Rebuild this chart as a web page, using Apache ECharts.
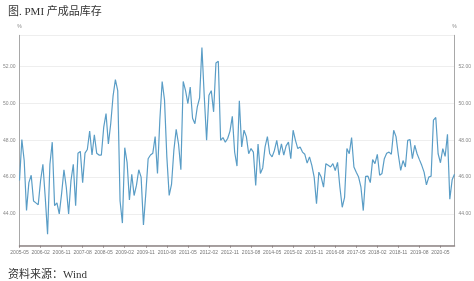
<!DOCTYPE html>
<html><head><meta charset="utf-8">
<script src="https://cdn.jsdelivr.net/npm/echarts@6/dist/echarts.min.js"></script>
<style>html,body{margin:0;padding:0;background:#fff;}#c{width:474px;height:281px;}</style>
</head><body><div id="c"></div>
<script>
const titleText = '图. PMI 产成品库存';
const sourceText = '资料来源：Wind';
const startYear = 2005, startMonth = 5, monthCount = 187;
const inventory1 = [45.82,48.04,46.9,44.18,45.7,46.1,44.7,44.6,44.5,45.8,46.7,44.9,42.9,46.7,47.9,44.45,44.6,44.0,45.1,46.4,
45.45,44.0,45.8,46.7,44.45,47.3,47.4,45.7,47.3,47.5,48.5,47.2,48.3,47.3,47.2,47.2,48.7,49.45,47.8,48.9,
50.4,51.3,50.7,44.7,43.5,47.6,46.8,44.76,46.15,45.0,45.55,46.4,46.0,43.4,45.1,47.0,47.2,47.3,48.2,46.2,
49.1,51.2,50.2,47.1,45.0,45.6,47.45,48.6,47.8,46.4,51.2,50.7,50.0,50.9,49.2,48.9,49.8,50.3,53.05,50.4,
48.0,50.45,50.7,49.55,52.2,52.3,48.0,48.15,47.9,48.1,48.5,49.3,47.35,46.6,50.15];
const inventory2 = [47.64,48.55,48.2,47.27,47.55,47.36,45.55,47.8,46.2,46.5,47.64,48.2,47.27,47.1,47.45,48.0,47.2,47.8,47.2,47.7,
47.9,47.0,48.55,48.0,47.55,47.64,47.36,47.24,46.76,47.1,46.64,46.0,44.55,46.27,46.0,45.45,46.73,46.64,46.55,46.73,
46.36,46.8,45.45,44.36,44.9,47.55,47.27,48.15,46.55,46.27,46.0,45.45,44.18,46.04,46.05,45.7,46.95,46.73,47.24,46.1,
46.2,47.0,47.3,47.36,47.24,48.55,48.2,47.2,46.36,46.9,46.55,48.0,48.04,47.0,47.73,47.27,46.95,46.64,46.27,45.58,
46.0,46.05,49.1,49.24,47.27,46.78,47.55,47.13,48.33,44.8,45.85,46.15];
const values = inventory1.concat(inventory2);
const months = [];
for (let i = 0; i < monthCount; i++) {
  const m = startMonth - 1 + i;
  const y = startYear + Math.floor(m / 12);
  const mm = (m % 12) + 1;
  months.push(y + '-' + (mm < 10 ? '0' + mm : mm));
}
const yMin = 42.27, yMax = 53.71;

const chart = echarts.init(document.getElementById('c'), null, {renderer: 'canvas'});
const yAxisBase = {
  type: 'value', min: yMin, max: yMax, splitNumber: 6,
  name: '%', nameGap: 6,
  nameTextStyle: {fontSize: 5, color: '#888'},
  axisLine: {show: true, lineStyle: {color: '#a8a8a8', width: 1}},
  axisTick: {show: false},
  axisLabel: {fontSize: 5, color: '#888', showMinLabel: false, showMaxLabel: false, margin: 4,
    formatter: v => v.toFixed(2)},
};
chart.setOption({
  animation: false,
  backgroundColor: '#fff',
  title: [
    {text: titleText, left: 3, top: 2, textStyle: {fontSize: 11, fontWeight: 'normal', color: '#333', fontFamily: 'Liberation Serif, Noto Sans CJK SC'}},
    {text: sourceText, left: 3, top: 265, textStyle: {fontSize: 11, fontWeight: 'normal', color: '#333', fontFamily: 'Liberation Serif, Noto Sans CJK SC'}}
  ],
  grid: {left: 17, right: 15.3, top: 35.3, bottom: 35.3},
  xAxis: {
    type: 'category', data: months, boundaryGap: false,
    axisLine: {lineStyle: {color: '#8c8282', width: 1.5}},
    axisTick: {show: true, interval: 8, length: 2, lineStyle: {color: '#8c8282'}},
    axisLabel: {interval: 8, fontSize: 5, color: '#777', margin: 4},
    splitLine: {show: false}
  },
  yAxis: [
    Object.assign({}, yAxisBase, {position: 'left', splitLine: {show: true, lineStyle: {color: '#eeeeee', width: 1}}}),
    Object.assign({}, yAxisBase, {position: 'right', splitLine: {show: false}})
  ],
  series: [{
    type: 'line', data: values, yAxisIndex: 0, symbol: 'none', smooth: false,
    lineStyle: {color: '#5a9dc6', width: 1.2}
  }]
});
</script></body></html>
